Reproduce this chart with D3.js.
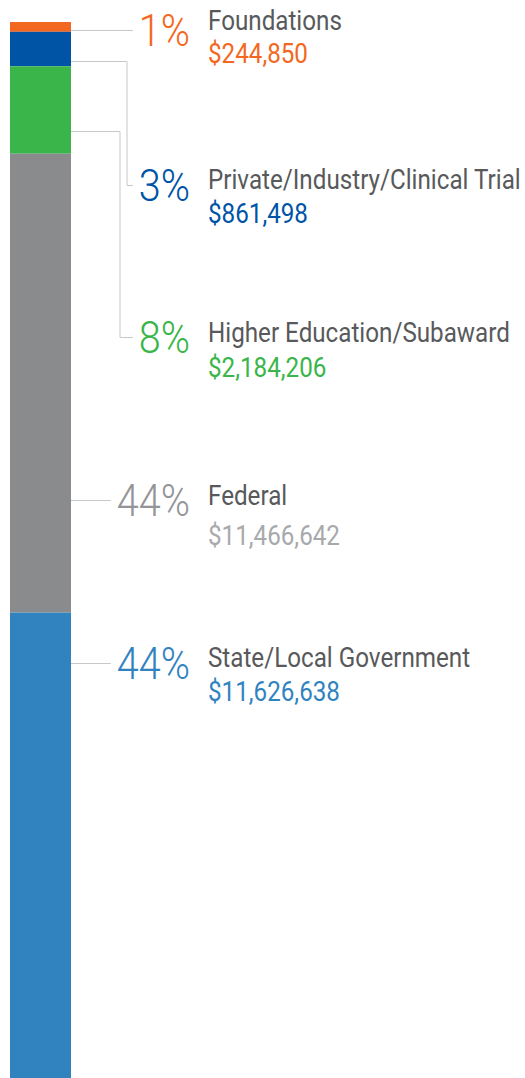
<!DOCTYPE html>
<html>
<head>
<meta charset="utf-8">
<script src="https://cdn.jsdelivr.net/npm/d3@7"></script>
<style>
  body { margin: 0; background: #fff; }
  svg { display: block; font-family: Roboto, "Noto Sans", sans-serif; }
</style>
</head>
<body>
<svg id="chart"></svg>
<script>
// funding sources, top of the bar to bottom
var categories = ["Foundations", "Private/Industry/Clinical Trial", "Higher Education/Subaward", "Federal", "State/Local Government"];
var amounts = [244850, 861498, 2184206, 11466642, 11626638];
var percents = [1, 3, 8, 44, 44];

var barColors = ["#f36821", "#0054a6", "#39b54a", "#8a8b8d", "#3183bf"];
var pctColors = ["#f36821", "#0054a6", "#39b54a", "#939598", "#3183bf"];
var amountColors = ["#f36821", "#0054a6", "#39b54a", "#a7a9ac", "#3183bf"];

// callout layout (annotation anchors)
var leaderBarY = [30, 61, 131, 500, 663];
var leaderElbowX = [null, 127, 120, null, null];
var leaderY = [30, 185, 337, 500, 663];
var labelY = [30, 189, 342, 505, 667];
var amountY = [63, 223, 377, 545, 701];

var dimensions = { width: 525, height: 1078, barTop: 22, barLeft: 10, barRight: 71 };
var squeeze = 0.865;    // narrow the type like a condensed face
var pctSqueeze = 0.9;

var svg = d3.select("#chart")
    .attr("width", dimensions.width)
    .attr("height", dimensions.height);

var total = d3.sum(amounts);
var ends = d3.cumsum(amounts);

var data = categories.map(function(c, i) {
    return { category: c, amount: amounts[i], pct: percents[i], start: ends[i] - amounts[i], end: ends[i], i: i };
});

var xScale = d3.scaleBand()
    .domain(["funding"])
    .range([dimensions.barLeft, dimensions.barRight])
    .padding(0);

var yScale = d3.scaleLinear()
    .domain([0, total])
    .range([dimensions.barTop, dimensions.height]);

// stacked bar
svg.selectAll(".seg")
    .data(data)
    .enter()
    .append("rect")
    .attr("class", "seg")
    .attr("x", xScale("funding"))
    .attr("width", xScale.bandwidth())
    .attr("y", d => yScale(d.start))
    .attr("height", d => yScale(d.end) - yScale(d.start))
    .attr("fill", d => barColors[d.i]);

var pctX = 190, labelX = 208;

var callout = svg.selectAll(".callout")
    .data(data)
    .enter()
    .append("g")
    .attr("class", "callout");

var pctText = callout.append("text")
    .attr("transform", d => `translate(${pctX},${leaderY[d.i] + 16}) scale(${pctSqueeze},1)`)
    .attr("text-anchor", "end")
    .attr("font-size", 44)
    .attr("font-weight", 300)
    .attr("fill", d => pctColors[d.i])
    .text(d => d.pct + "%");

callout.append("text")
    .attr("transform", d => `translate(${labelX},${labelY[d.i]}) scale(${squeeze},1)`)
    .attr("font-size", 28)
    .attr("fill", "#58595b")
    .text(d => d.category);

callout.append("text")
    .attr("transform", d => `translate(${labelX},${amountY[d.i]}) scale(${squeeze},1)`)
    .attr("font-size", 28)
    .attr("fill", d => amountColors[d.i])
    .text(d => d3.format("$,")(d.amount));

// leader lines, ending just short of each percentage
pctText.each(function(d) {
    var endX = pctX - this.getComputedTextLength() * pctSqueeze - 6;
    var x0 = dimensions.barRight;
    var pts = leaderElbowX[d.i] == null
        ? [[x0, leaderBarY[d.i]], [endX, leaderY[d.i]]]
        : [[x0, leaderBarY[d.i]], [leaderElbowX[d.i], leaderBarY[d.i]], [leaderElbowX[d.i], leaderY[d.i]], [endX, leaderY[d.i]]];
    svg.insert("path", ".callout")
        .attr("d", d3.line()(pts.map(p => [p[0], Math.round(p[1]) + 0.5])))
        .attr("fill", "none")
        .attr("stroke", "#c7c8ca")
        .attr("stroke-width", 1);
});
</script>
</body>
</html>
